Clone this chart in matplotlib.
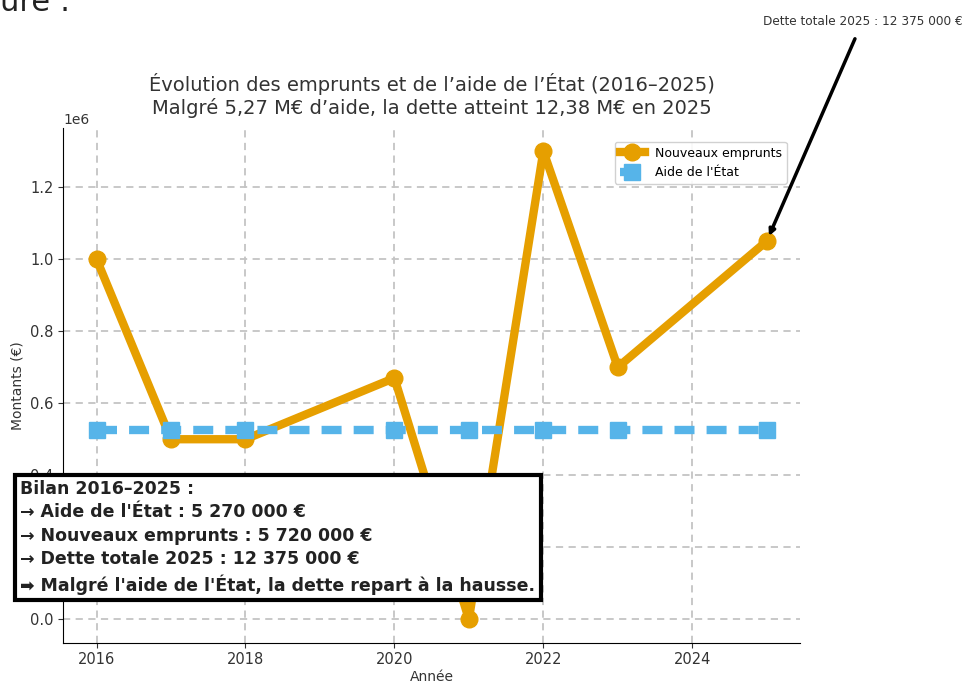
import matplotlib
matplotlib.use('Agg')
import matplotlib.pyplot as plt

# Données
annees = [2016, 2017, 2018, 2020, 2021, 2022, 2023, 2025]
emprunts = [1000000, 500000, 500000, 670000, 0, 1300000, 700000, 1050000]
aide = [527000] * len(annees)

dette_2025 = "12 375 000 €"
bilan_lignes = [
    "Bilan 2016–2025 :",
    "→ Aide de l'État : 5 270 000 €",
    "→ Nouveaux emprunts : 5 720 000 €",
    "→ Dette totale 2025 : 12 375 000 €",
    "➡ Malgré l'aide de l'État, la dette repart à la hausse.",
]

ORANGE = '#E69F00'
BLEU = '#56B4E9'

fig = plt.figure(figsize=(9.7, 6.83), dpi=100)
ax = fig.add_axes([0.065, 0.059, 0.760, 0.754])

ax.plot(annees, emprunts, color=ORANGE, linewidth=6, marker='o', markersize=12,
        label='Nouveaux emprunts')
ax.plot(annees, aide, color=BLEU, linewidth=6, linestyle='--', dashes=(2.4, 1.45),
        marker='s', markersize=12, label="Aide de l'État")

ax.set_title("Évolution des emprunts et de l’aide de l’État (2016–2025)\n"
             "Malgré 5,27 M€ d’aide, la dette atteint 12,38 M€ en 2025",
             fontsize=14, color='#333333', pad=10)
ax.set_xlabel("Année", fontsize=10, color='#333333', labelpad=2)
ax.set_ylabel("Montants (€)", fontsize=10, color='#333333')
ax.grid(True, linestyle=(0, (4, 3)), linewidth=1.3, color='#c4c4c4')
ax.spines['top'].set_visible(False)
ax.spines['right'].set_visible(False)
ax.tick_params(labelsize=10.5, colors='#333333')
ax.set_xticks([2016, 2018, 2020, 2022, 2024])

ax.legend(loc='upper right', bbox_to_anchor=(0.99, 0.985), fontsize=9,
          markerscale=1.0, framealpha=0.9)

ax.annotate(f"Dette totale 2025 : {dette_2025}",
            xy=(annees[-1], emprunts[-1]), xycoords='data',
            xytext=(0.889, 0.968), textcoords='figure fraction',
            ha='center', va='center', fontsize=8.7, color='#333333',
            arrowprops=dict(arrowstyle='-|>', color='black', lw=2.5,
                            shrinkA=6, shrinkB=4))

fig.text(0.021, 0.297, "\n".join(bilan_lignes), fontsize=12.5, fontweight='bold',
         color='#222222', ha='left', va='top', linespacing=1.38,
         bbox=dict(boxstyle='square,pad=0.3', fc='white', ec='black', lw=3))

fig.text(0.0, 0.997, "ure :", fontsize=22, color='#222222', ha='left', va='center')

fig.savefig('out.png', dpi=100)
